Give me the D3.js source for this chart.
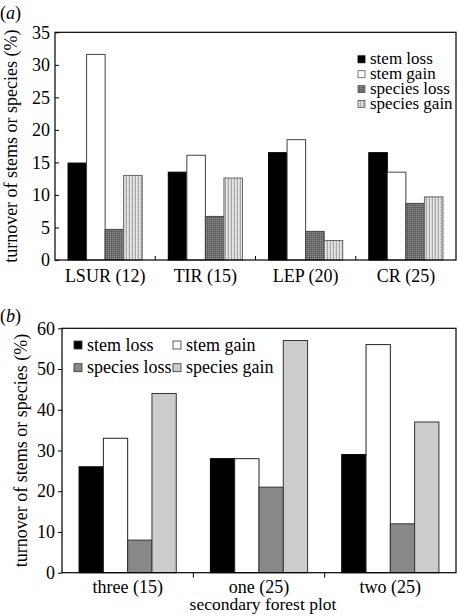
<!DOCTYPE html>
<html><head><meta charset="utf-8">
<script src="https://cdn.jsdelivr.net/npm/d3@7"></script>
<style>
body{margin:0;background:#fff;}
svg{display:block;}
</style></head>
<body><svg id="chart" width="458" height="616"></svg>
<script>
const seriesNames = ["stem loss","stem gain","species loss","species gain"];
const catsA = ["LSUR (12)","TIR (15)","LEP (20)","CR (25)"];
const stemLossA = [14.9,13.5,16.5,16.5];
const stemGainA = [31.6,16.1,18.5,13.5];
const speciesLossA = [4.7,6.7,4.4,8.7];
const speciesGainA = [13.0,12.6,3.0,9.7];
const ticksA = [0,5,10,15,20,25,30,35];

const catsB = ["three (15)","one (25)","two (25)"];
const stemLossB = [26,28,29];
const stemGainB = [33,28,56];
const speciesLossB = [8,21,12];
const speciesGainB = [44,57,37];
const ticksB = [0,10,20,30,40,50,60];

const FONT = "'Liberation Serif'";
const svg = d3.select("#chart");
const defs = svg.append("defs");
const p1 = defs.append("pattern").attr("id","pLoss").attr("patternUnits","userSpaceOnUse").attr("width",2).attr("height",2);
p1.append("rect").attr("width",2).attr("height",2).attr("fill","#6e6e6e");
p1.append("rect").attr("width",1).attr("height",1).attr("fill","#8c8c8c");
p1.append("rect").attr("x",1).attr("y",1).attr("width",1).attr("height",1).attr("fill","#5a5a5a");
const p2 = defs.append("pattern").attr("id","pGain").attr("patternUnits","userSpaceOnUse").attr("width",3).attr("height",2);
p2.append("rect").attr("width",3).attr("height",2).attr("fill","#e6e6e6");
p2.append("rect").attr("x",0).attr("width",1).attr("height",2).attr("fill","#a8a8a8");
p2.append("rect").attr("x",2).attr("y",1).attr("width",1).attr("height",1).attr("fill","#c4c4c4");

function txt(sel, size){ return sel.style("font-family",FONT).style("font-size",size+"px").attr("fill","#000"); }

function panel(opts){
  const {cats, data, ticks, yMax, left, right, top, bottom, fills, strokes, inward, label, labelPos, titleX} = opts;
  const g = svg.append("g");
  const x = d3.scaleBand().domain(cats).range([left,right]).paddingInner(0).paddingOuter(0);
  const y = d3.scaleLinear().domain([0,yMax]).range([bottom,top]);
  const bw = x.bandwidth()*0.74/4;
  seriesNames.forEach((s,si)=>{
    g.selectAll(null).data(cats.map((c,i)=>({c,v:data[si][i]}))).enter().append("rect")
      .attr("x",d=>x(d.c)+x.bandwidth()*0.13+si*bw)
      .attr("y",d=>y(d.v))
      .attr("width",bw)
      .attr("height",d=>y(0)-y(d.v))
      .attr("fill",fills[si]).attr("stroke",strokes[si]).attr("stroke-width",1);
  });
  g.append("rect").attr("x",left).attr("y",top).attr("width",right-left).attr("height",bottom-top)
    .attr("fill","none").attr("stroke","#000").attr("stroke-width",1.2);
  const tl = inward ? -4 : 4;
  const ya = g.append("g").attr("transform",`translate(${left},0)`)
    .call(d3.axisLeft(y).tickValues(ticks).tickSize(tl).tickSizeOuter(0).tickPadding(opts.tickPad));
  ya.select(".domain").remove();
  txt(ya.selectAll("text"), 18);
  ya.selectAll("line").attr("stroke","#000");
  const bounds = cats.slice(1).map(c=>x(c));
  g.selectAll(null).data(bounds).enter().append("line")
    .attr("x1",d=>d).attr("x2",d=>d).attr("y1",bottom).attr("y2",bottom+(inward?-4:5)).attr("stroke","#000");
  txt(g.selectAll(null).data(cats).enter().append("text")
    .attr("x",d=>x(d)+x.bandwidth()/2).attr("y",bottom+opts.catDy)
    .attr("text-anchor","middle"), 18).text(d=>d);
  txt(g.append("text").attr("transform",`translate(${titleX},${(top+bottom)/2}) rotate(-90)`)
    .attr("text-anchor","middle"), 18).text("turnover of stems or species (%)");
  const pl = txt(g.append("text").attr("x",labelPos[0]).attr("y",labelPos[1]), 18);
  pl.append("tspan").text("(");
  pl.append("tspan").style("font-style","italic").text(label);
  pl.append("tspan").text(")");
  return {g,x,y};
}

const A = panel({cats:catsA, data:[stemLossA,stemGainA,speciesLossA,speciesGainA], ticks:ticksA, yMax:35,
  left:55, right:456, top:32.3, bottom:260, fills:["#000","#fff","url(#pLoss)","url(#pGain)"],
  strokes:["#000","#444","#444","#666"], inward:true, tickPad:5, label:"a", labelPos:[0,19], titleX:17, catDy:22});
const legA = A.g.append("g");
seriesNames.forEach((s,i)=>{
  const yy = 59.3 + i*14.9;
  legA.append("rect").attr("x",358).attr("y",yy-3.5).attr("width",7).attr("height",7)
    .attr("fill",["#000","#fff","url(#pLoss)","url(#pGain)"][i]).attr("stroke",i===0?"#000":"#555").attr("stroke-width",0.8);
  txt(legA.append("text").attr("x",370).attr("y",yy+5), 17).text(s);
});

const B = panel({cats:catsB, data:[stemLossB,stemGainB,speciesLossB,speciesGainB], ticks:ticksB, yMax:60,
  left:62, right:456, top:328.3, bottom:572.7, fills:["#000","#fff","#888","#ccc"],
  strokes:["#000","#222","#333","#333"], inward:false, tickPad:3, label:"b", labelPos:[0,322], titleX:27, catDy:20.5});
const legB = B.g.append("g");
seriesNames.forEach((s,i)=>{
  const col = i%2, row = Math.floor(i/2);
  const xx = col===0 ? 74 : 173, yy = 345 + row*22.7;
  legB.append("rect").attr("x",xx).attr("y",yy-4).attr("width",8).attr("height",8)
    .attr("fill",["#000","#fff","#888","#ccc"][i]).attr("stroke","#333").attr("stroke-width",0.8);
  txt(legB.append("text").attr("x",xx+13).attr("y",yy+5.5), 18).text(s);
});
txt(svg.append("text").attr("x",263).attr("y",610).attr("text-anchor","middle"), 17.5).text("secondary forest plot");
</script></body></html>
